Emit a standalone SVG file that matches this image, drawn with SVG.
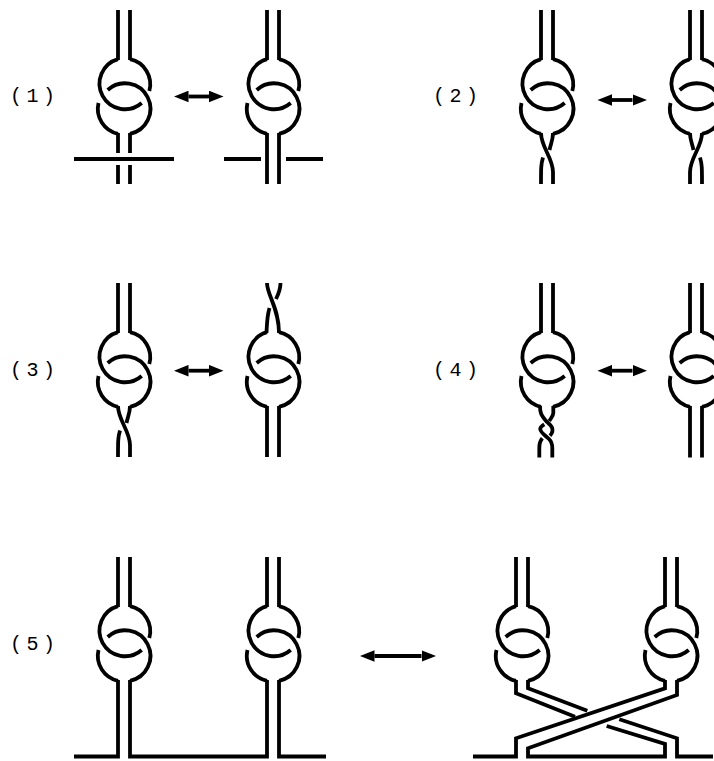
<svg xmlns="http://www.w3.org/2000/svg" width="714" height="761" viewBox="0 0 714 761">
<style>
.s{fill:none;stroke:#000;stroke-width:3.8}
.a{fill:none;stroke:#000;stroke-width:3.8;marker-start:url(#h);marker-end:url(#h)}
text{font-family:"Liberation Mono",monospace;font-size:20px;letter-spacing:4.5px;fill:#000}
</style>
<defs>
<marker id="h" markerUnits="userSpaceOnUse" markerWidth="15" markerHeight="12" refX="0" refY="6" orient="auto-start-reverse"><path d="M0 .2L14.500 6L0 11.800Z" fill="#000"/></marker>
<g id="k" class="s">
<path d="M118 59.200A25.500 25.500 0 1 0 141.700 103"/>
<path d="M130 59.200A25.500 25.500 0 0 1 149.300 91"/>
<path d="M107.700 90A25.500 25.500 0 1 1 130 133.800"/>
<path d="M98.500 103A25.500 25.500 0 0 0 118 133.800"/>
</g>
<g id="top" class="s"><path d="M118 10V60M130 10V60"/></g>
<g id="tw" class="s">
<path d="M118 133C118 147 130 158 130 172V184"/>
<path d="M130 133C130 140 128 143 126.500 150"/>
<path d="M120 157.500C118 164 118 168 118 184"/>
</g>
</defs>
<g id="connectors">
<path class="a" d="M188.500 96.500H209"/>
<path class="a" d="M612 100H632.500"/>
<path class="a" d="M188.500 370.700H209"/>
<path class="a" d="M612 370.700H632.500"/>
<path class="a" d="M374.500 656H421.500"/>
</g>
<g id="n1a"><use href="#k"/><use href="#top"/><path class="s" d="M118 133V153M130 133V153M118 165V184M130 165V184M74 159H174"/></g>
<g id="n1b"><use href="#k" x="149"/><use href="#top" x="149"/><path class="s" d="M267 133V184M279 133V184M224 159H261M286 159H323"/></g>
<g id="n2a"><use href="#k" x="423"/><use href="#top" x="423"/><use href="#tw" x="423"/></g>
<g id="n2b"><use href="#k" x="572"/><use href="#top" x="572"/><use href="#tw" transform="translate(820 0) scale(-1 1)"/></g>
<g id="n3a" transform="translate(0 273)"><use href="#k"/><use href="#top"/><use href="#tw"/></g>
<g id="n3b" transform="translate(149 273)"><use href="#k"/><path class="s" d="M118 10C118 22 130 35 130 60"/><path class="s" d="M131.500 10C131.500 16 130 20 127 26"/><path class="s" d="M120.500 35C118 43 118 50 117.500 60"/><path class="s" d="M118 133V184M130 133V184"/></g>
<g id="n4a"><use href="#k" x="423" y="273"/><use href="#top" x="423" y="273"/><path class="s" d="M540 406C540 413 541 415 546.700 421.700C549 424 551 425 552 427.500C553 430 552.500 433 550 435.700"/><path class="s" d="M553.300 406V413C553.300 416 551 418 549.300 421"/><path class="s" d="M544.300 424.300C541.500 426 540 428 540.300 429.500C541 433 545 435 549 439C551.500 441.500 552.300 444 552.300 448V457.500"/><path class="s" d="M542.300 438.300C540 441 539.300 444 539.300 448V457.500"/></g>
<g id="n4b"><use href="#k" x="572" y="273"/><use href="#top" x="572" y="273"/><path class="s" d="M690 406V457.500M702 406V457.500"/></g>
<g id="n5a"><use href="#k" y="547"/><use href="#top" y="547"/><path class="s" d="M74 756.500H118V680M130 680V756.500H267V680M279 680V756.500H326"/></g>
<g id="n5c"><use href="#k" x="149" y="547"/><use href="#top" x="149" y="547"/></g>
<g id="n5b"><use href="#k" x="398" y="547"/><use href="#top" x="398" y="547"/></g>
<g id="n5d"><use href="#k" x="547" y="547"/><use href="#top" x="547" y="547"/></g>
<g id="n5e">
<path class="s" d="M516 680V693.300L575 716.700"/>
<path class="s" d="M528 680V688.300L587.300 710.700"/>
<path class="s" d="M619.300 719.300L677 738.300V756.500H713"/>
<path class="s" d="M606.700 726L665 744V756.500H528V748.300L677 695V680"/>
<path class="s" d="M473 756.500H516V738.300L665 688.300V680"/>
</g>
<text x="10" y="102">(1)</text>
<text x="433" y="102">(2)</text>
<text x="10" y="376">(3)</text>
<text x="433" y="376">(4)</text>
<text x="10" y="650">(5)</text>
</svg>
